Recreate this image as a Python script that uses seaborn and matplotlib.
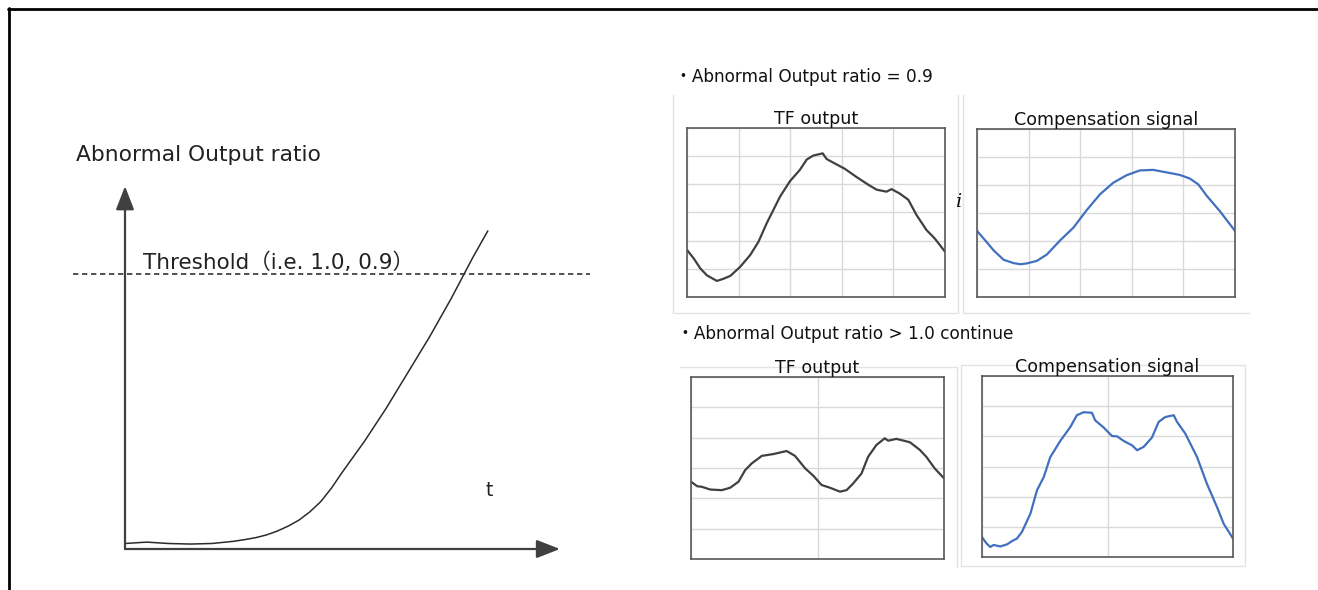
import numpy as np
import pandas as pd
import matplotlib
matplotlib.use("Agg")
import matplotlib.pyplot as plt
from matplotlib.lines import Line2D
import seaborn as sns

# ---------------- data ----------------
# Left diagram: abnormal output ratio over time (threshold = 1.0)
ratio_t = [0.0, 0.5, 1.0, 1.5, 2.0, 2.5, 2.75, 3.0, 3.25, 3.5, 3.75, 4.0, 4.25, 4.5, 4.75, 5.0, 5.25, 5.5,
           6.0, 6.5, 7.0, 7.5, 8.0, 8.34]
ratio_v = [0.02, 0.025, 0.02, 0.018, 0.02, 0.028, 0.034, 0.041, 0.051, 0.065, 0.083, 0.105, 0.135, 0.172,
           0.222, 0.28, 0.335, 0.39, 0.51, 0.64, 0.77, 0.91, 1.06, 1.155]
threshold = 1.0

# Ratio = 0.9 : TF output
tf1_x = [0, 2.6, 5.2, 7.7, 11.6, 14.2, 16.8, 20.6, 24.5, 27.7, 30.9, 36.1, 39.9, 43.8, 46.4, 48.9, 52.6, 54.1,
         57.3, 61.2, 65.7, 70.2, 73.5, 77.3, 79.3, 82.5, 85.8, 88.9, 92.8, 96.0, 100]
tf1_y = [1.67, 1.37, 1.01, 0.77, 0.57, 0.65, 0.75, 1.07, 1.49, 1.96, 2.62, 3.57, 4.11, 4.52, 4.88, 5.02, 5.10, 4.90,
         4.74, 4.55, 4.26, 3.99, 3.81, 3.74, 3.83, 3.67, 3.45, 2.92, 2.38, 2.08, 1.61]
# Ratio = 0.9 : Compensation signal
cs1_x = [0, 3.2, 6.4, 10.3, 14.2, 16.8, 19.3, 23.2, 27.1, 32.2, 37.4, 42.5, 47.7, 52.8, 58.0, 63.1, 68.3, 73.5,
         78.6, 82.5, 85.8, 88.9, 94.1, 100]
cs1_y = [2.36, 2.02, 1.67, 1.33, 1.21, 1.17, 1.20, 1.29, 1.52, 2.02, 2.48, 3.10, 3.67, 4.08, 4.35, 4.52, 4.54, 4.45,
         4.36, 4.23, 4.02, 3.63, 3.07, 2.36]
# Ratio > 1.0 continue : TF output
tf2_x = [0, 2.4, 4.3, 7.6, 12.2, 15.5, 18.8, 21.4, 24.0, 28.0, 32.6, 37.8, 41.1, 45.1, 48.4, 51.6, 54.9, 58.9,
         61.5, 64.1, 67.4, 70.0, 73.3, 76.6, 77.9, 81.2, 86.5, 90.4, 93.0, 96.3, 100]
tf2_y = [2.55, 2.40, 2.38, 2.29, 2.27, 2.35, 2.55, 2.93, 3.15, 3.40, 3.46, 3.56, 3.40, 2.99, 2.74, 2.44, 2.35, 2.22,
         2.27, 2.49, 2.82, 3.37, 3.76, 3.98, 3.90, 3.96, 3.85, 3.60, 3.37, 2.99, 2.66]
# Ratio > 1.0 continue : Compensation signal
cs2_x = [0, 1.7, 3.3, 4.6, 7.3, 10.0, 12.0, 13.9, 15.9, 19.3, 21.9, 24.6, 27.2, 31.2, 35.2, 37.8, 40.5, 43.8,
         45.1, 48.5, 51.8, 53.8, 56.4, 59.8, 61.8, 64.4, 67.7, 70.4, 73.0, 76.4, 77.7, 81.0, 85.7, 89.6, 93.6,
         96.3, 100]
cs2_y = [0.66, 0.46, 0.33, 0.40, 0.35, 0.42, 0.53, 0.61, 0.83, 1.44, 2.21, 2.65, 3.31, 3.85, 4.31, 4.70, 4.80, 4.78,
         4.53, 4.29, 4.01, 4.00, 3.85, 3.70, 3.54, 3.65, 3.96, 4.48, 4.64, 4.70, 4.48, 4.09, 3.31, 2.43, 1.66,
         1.10, 0.61]

# ---------------- style ----------------
sns.set_style("white")
plt.rcParams['font.family'] = ['DejaVu Sans', 'Noto Sans CJK JP']

W, H = 1318, 590
fig = plt.figure(figsize=(W / 100, H / 100), dpi=100)

DARK = "#404040"
BLUE = "#4170BE"
GRID = "#D9D9D9"
FRAME = "#595959"
TXT = "#222222"


def fx(px):
    return px / W


def fy(py):
    return 1 - py / H


def rect(l, t, r, b):
    return [fx(l), fy(b), fx(r) - fx(l), fy(t) - fy(b)]


# ---------------- outer border ----------------
fig.add_artist(Line2D([fx(8), 1.0], [fy(8.5), fy(8.5)], color="black", lw=2.0))
fig.add_artist(Line2D([fx(8.5), fx(8.5)], [fy(8), 0.0], color="black", lw=2.0))

# ---------------- chart-area frames (light) ----------------
light = dict(color="#E3E3E3", lw=1.0, zorder=-5)
for (x0, y0, x1, y1) in [
    (673, 95, 673, 313), (958, 95, 958, 313), (963, 95, 963, 313), (673, 313, 958, 313), (963, 313, 1249, 313),
    (680, 367, 957, 367), (957, 367, 957, 567),
    (961, 365, 1245, 365), (961, 365, 961, 566), (1245, 365, 1245, 566), (961, 566, 1245, 566),
]:
    fig.add_artist(Line2D([fx(x0), fx(x1)], [fy(y0), fy(y1)], **light))

# ---------------- left diagram ----------------
axL = fig.add_axes(rect(125, 188, 560, 549))
dfr = pd.DataFrame({"t": ratio_t, "ratio": ratio_v})
sns.lineplot(data=dfr, x="t", y="ratio", ax=axL, color="#2b2b2b", lw=1.1)
axL.set_xlim(0, 10)
axL.set_ylim(0, 1.311)
for s in axL.spines.values():
    s.set_visible(False)
axL.set_xticks([])
axL.set_yticks([])
axL.set_xlabel("")
axL.set_ylabel("")
axL.patch.set_alpha(0)
axL.axhline(threshold, xmin=-0.12, xmax=1.07, clip_on=False, color="#333333",
            lw=1.2, ls=(0, (3.2, 2.2)))
arrow_kw = dict(arrowstyle="-|>,head_length=0.9,head_width=0.35", color=DARK, lw=1.6,
                shrinkA=0, shrinkB=0, mutation_scale=16)
axL.annotate("", xy=(1.0, 0.0), xytext=(0.0, 0.0), xycoords="axes fraction",
             textcoords="axes fraction", arrowprops=arrow_kw, annotation_clip=False)
axL.annotate("", xy=(0.0, 1.005), xytext=(0.0, 0.0), xycoords="axes fraction",
             textcoords="axes fraction", arrowprops=arrow_kw, annotation_clip=False)
axL.text((143 - 125) / 435, (549 - 269) / 361, "Threshold（i.e. 1.0, 0.9）",
         transform=axL.transAxes, fontsize=15.5, color=TXT, va="baseline", ha="left")

fig.text(fx(76), fy(161), "Abnormal Output ratio", fontsize=15.7, color=TXT,
         va="baseline", ha="left")
fig.text(fx(489), fy(496), "t", fontsize=13.5, color=TXT, va="baseline", ha="center")

# ---------------- section headings ----------------
fig.text(fx(675), fy(82), "・Abnormal Output ratio = 0.9", fontsize=12.2, color="#111111",
         va="baseline", ha="left")
fig.text(fx(677), fy(339), "・Abnormal Output ratio > 1.0 continue", fontsize=12.2, color="#111111",
         va="baseline", ha="left")
fig.text(fx(958), fy(207), "i", fontsize=14, family="DejaVu Serif", style="italic",
         color="#111111", va="baseline", ha="center")


def small_panel(box, xs, ys, color, title, xstep):
    ax = fig.add_axes(rect(*box))
    df = pd.DataFrame({"x": xs, "y": ys})
    sns.lineplot(data=df, x="x", y="y", ax=ax, color=color, lw=1.6)
    ax.set_xlim(0, 100)
    ax.set_ylim(0, 6)
    ax.set_xticks(np.arange(0, 100.1, xstep))
    ax.set_yticks(np.arange(0, 6.1, 1))
    ax.grid(True, color=GRID, lw=1.0)
    ax.tick_params(length=0, labelbottom=False, labelleft=False)
    ax.set_xlabel("")
    ax.set_ylabel("")
    for s in ax.spines.values():
        s.set_visible(True)
        s.set_color(FRAME)
        s.set_linewidth(1.2)
    ax.set_title(title, fontsize=12.6, pad=3, color="#111111")
    return ax


small_panel((687, 128, 945, 297), tf1_x, tf1_y, DARK, "TF output", 20)
small_panel((977, 129, 1235, 297), cs1_x, cs1_y, BLUE, "Compensation signal", 20)
small_panel((691, 377, 944, 559), tf2_x, tf2_y, DARK, "TF output", 50)
small_panel((982, 376, 1233, 557), cs2_x, cs2_y, BLUE, "Compensation signal", 50)

fig.savefig("out.png", dpi=100)
